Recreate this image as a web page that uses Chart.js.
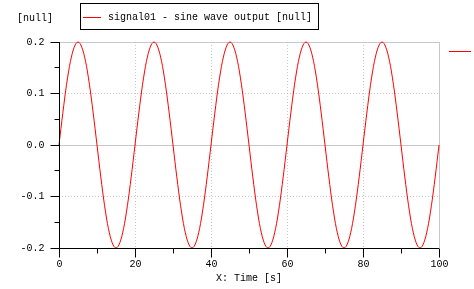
<!DOCTYPE html>
<html>
<head>
<meta charset="utf-8">
<script src="https://cdn.jsdelivr.net/npm/chart.js@4/dist/chart.umd.min.js"></script>
<style>
  html, body { margin: 0; padding: 0; background: #fff; }
  #c { display: block; }
</style>
</head>
<body>
<canvas id="c" width="474" height="289"></canvas>
<script>
// time axis (s), one sample per second
const timeValues = [
  0, 1, 2, 3, 4, 5, 6, 7, 8, 9, 10, 11, 12, 13, 14, 15, 16, 17, 18, 19,
  20, 21, 22, 23, 24, 25, 26, 27, 28, 29, 30, 31, 32, 33, 34, 35, 36, 37, 38, 39,
  40, 41, 42, 43, 44, 45, 46, 47, 48, 49, 50, 51, 52, 53, 54, 55, 56, 57, 58, 59,
  60, 61, 62, 63, 64, 65, 66, 67, 68, 69, 70, 71, 72, 73, 74, 75, 76, 77, 78, 79,
  80, 81, 82, 83, 84, 85, 86, 87, 88, 89, 90, 91, 92, 93, 94, 95, 96, 97, 98, 99, 100
];
// signal01 - sine wave output
const signalValues = [
  0, 0.062, 0.118, 0.162, 0.190, 0.2, 0.190, 0.162, 0.118, 0.062,
  0, -0.062, -0.118, -0.162, -0.190, -0.2, -0.190, -0.162, -0.118, -0.062,
  0, 0.062, 0.118, 0.162, 0.190, 0.2, 0.190, 0.162, 0.118, 0.062,
  0, -0.062, -0.118, -0.162, -0.190, -0.2, -0.190, -0.162, -0.118, -0.062,
  0, 0.062, 0.118, 0.162, 0.190, 0.2, 0.190, 0.162, 0.118, 0.062,
  0, -0.062, -0.118, -0.162, -0.190, -0.2, -0.190, -0.162, -0.118, -0.062,
  0, 0.062, 0.118, 0.162, 0.190, 0.2, 0.190, 0.162, 0.118, 0.062,
  0, -0.062, -0.118, -0.162, -0.190, -0.2, -0.190, -0.162, -0.118, -0.062,
  0, 0.062, 0.118, 0.162, 0.190, 0.2, 0.190, 0.162, 0.118, 0.062,
  0, -0.062, -0.118, -0.162, -0.190, -0.2, -0.190, -0.162, -0.118, -0.062,
  0
];
// tick labels
const xTicks = [0, 20, 40, 60, 80, 100];
const xMinorTicks = [10, 30, 50, 70, 90];
const yTicks = [-0.2, -0.1, 0.0, 0.1, 0.2];
const yMinorTicks = [-0.15, -0.05, 0.05, 0.15];
const seriesLabel = "signal01 - sine wave output [null]";
const yUnit = "[null]";
const xTitle = "X: Time [s]";

const MONO = '10px "Liberation Mono", "DejaVu Sans Mono", monospace';
const GRID = "#c8c8c8";

function hline(ctx, x1, x2, y) {
  ctx.beginPath();
  ctx.moveTo(x1, y);
  ctx.lineTo(x2, y);
  ctx.stroke();
}
function vline(ctx, x, y1, y2) {
  ctx.beginPath();
  ctx.moveTo(x, y1);
  ctx.lineTo(x, y2);
  ctx.stroke();
}

//grid behind the curve
const gridPlugin = {
  id: "grid",
  beforeDatasetsDraw(chart) {
    const ctx = chart.ctx;
    const xs = chart.scales.x, ys = chart.scales.y;
    const a = chart.chartArea;
    ctx.save();
    ctx.lineWidth = 1;
    ctx.strokeStyle = GRID;
    for (const v of yTicks) {
      const py = Math.floor(ys.getPixelForValue(v)) + 0.5;
      if (v === -0.2) continue;
      ctx.setLineDash(v === 0.1 || v === -0.1 ? [1, 2] : []);
      hline(ctx, a.left, a.right, py);
    }
    for (const v of xTicks) {
      if (v === 0) continue;
      const px = Math.floor(xs.getPixelForValue(v)) + 0.5;
      ctx.setLineDash(v === 100 ? [] : [1, 2]);
      vline(ctx, px, a.top, a.bottom);
    }
    ctx.restore();
  },
  afterDraw(chart) {
    const ctx = chart.ctx;
    const xs = chart.scales.x, ys = chart.scales.y;
    const a = chart.chartArea;
    const left = Math.floor(a.left) + 0.5;
    const bottom = Math.floor(a.bottom) + 0.5;
    ctx.save();
    ctx.lineWidth = 1;
    ctx.strokeStyle = "#000";
    // axes
    vline(ctx, left, a.top, bottom);
    hline(ctx, left, a.right, bottom);
    // y ticks
    ctx.font = MONO;
    ctx.fillStyle = "#000";
    ctx.textAlign = "right";
    ctx.textBaseline = "middle";
    for (const v of yTicks) {
      const py = Math.floor(ys.getPixelForValue(v)) + 0.5;
      hline(ctx, left - 9, left, py);
      ctx.fillText(v.toFixed(1), left - 15, py);
    }
    for (const v of yMinorTicks) {
      const py = Math.floor(ys.getPixelForValue(v)) + 0.5;
      hline(ctx, left - 5, left, py);
    }
    // x ticks
    ctx.textAlign = "center";
    ctx.textBaseline = "middle";
    for (const v of xTicks) {
      const px = Math.floor(xs.getPixelForValue(v)) + 0.5;
      vline(ctx, px, bottom, bottom + 9);
      ctx.fillText(String(v), px, bottom + 16);
    }
    for (const v of xMinorTicks) {
      const px = Math.floor(xs.getPixelForValue(v)) + 0.5;
      vline(ctx, px, bottom, bottom + 5);
    }
    ctx.fillText(xTitle, (a.left + a.right) / 2, bottom + 30);
    // unit label
    ctx.textAlign = "left";
    ctx.fillText(yUnit, 17, 18);
    // legend box
    ctx.strokeRect(80.5, 3.5, 238, 26);
    ctx.strokeStyle = "#ff0000";
    hline(ctx, 83, 101, 17.5);
    ctx.fillText(seriesLabel, 108, 17);
    // stray marker on the right
    hline(ctx, 449, 471, 51.5);
    ctx.restore();
  }
};

new Chart(document.getElementById("c"), {
  type: "line",
  data: {
    datasets: [{
      label: seriesLabel,
      data: timeValues.map((t, i) => ({ x: t, y: signalValues[i] })),
      borderColor: "#ff0000",
      borderWidth: 1,
      pointRadius: 0,
      cubicInterpolationMode: "monotone",
      fill: false,
      clip: false
    }]
  },
  options: {
    responsive: false,
    animation: false,
    layout: { padding: { left: 59, right: 35, top: 42, bottom: 41 } },
    scales: {
      x: { type: "linear", min: 0, max: 100, display: false },
      y: { min: -0.2, max: 0.2, display: false }
    },
    plugins: {
      legend: { display: false },
      tooltip: { enabled: false }
    }
  },
  plugins: [gridPlugin]
});
</script>
</body>
</html>
